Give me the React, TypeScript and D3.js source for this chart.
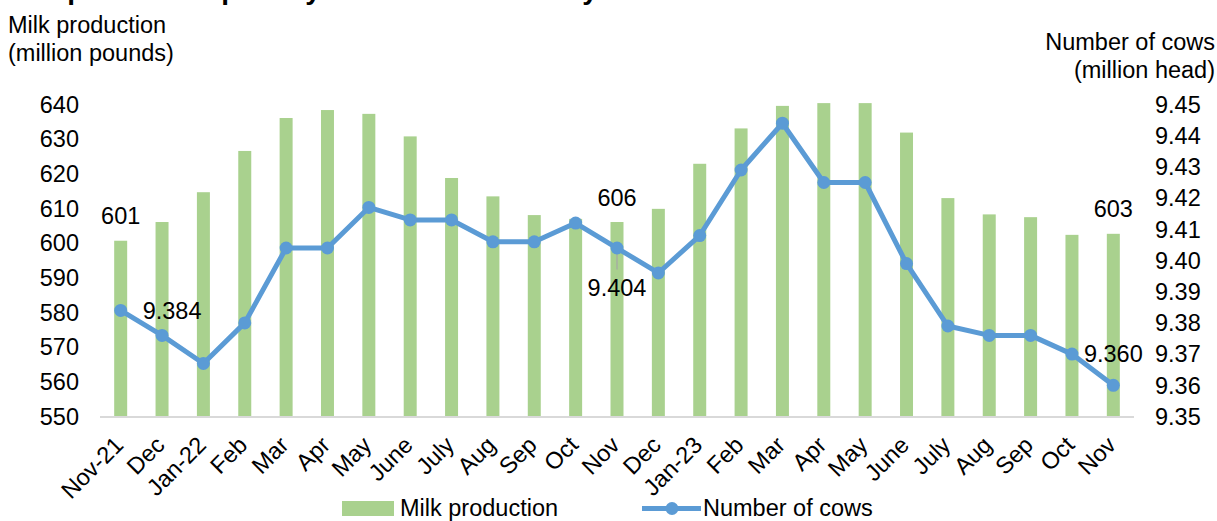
import React from "react";
import * as d3 from "d3";

// Monthly categories, Nov 2021 through Nov 2023
const categories = [
  "Nov-21", "Dec", "Jan-22", "Feb", "Mar", "Apr", "May", "June", "July", "Aug", "Sep", "Oct",
  "Nov", "Dec", "Jan-23", "Feb", "Mar", "Apr", "May", "June", "July", "Aug", "Sep", "Oct", "Nov",
];

// Milk production per day (million pounds)
const milkProduction = [
  600.7, 606.1, 614.7, 626.6, 636.1, 638.4, 637.3, 630.8, 618.8, 613.5, 608.1, 607.0,
  606.1, 609.9, 622.9, 633.1, 639.6, 640.4, 640.4, 631.9, 613.0, 608.3, 607.5, 602.4, 602.7,
];

// Number of cows (million head)
const numberOfCows = [
  9.384, 9.376, 9.367, 9.380, 9.404, 9.404, 9.417, 9.413, 9.413, 9.406, 9.406, 9.412,
  9.404, 9.396, 9.408, 9.429, 9.444, 9.425, 9.425, 9.399, 9.379, 9.376, 9.376, 9.370, 9.360,
];

const leftTicks = [550, 560, 570, 580, 590, 600, 610, 620, 630, 640];
const rightTicks = [9.35, 9.36, 9.37, 9.38, 9.39, 9.40, 9.41, 9.42, 9.43, 9.44, 9.45];

// Points that carry a value label
const milkLabelIdx = [0, 12, 24];
const cowLabelIdx = [0, 12, 24];

const W = 1217;
const H = 521;
const FONT = "'Liberation Sans', Arial, Helvetica, sans-serif";
const FS = 23.5;
const GREEN = "#A9D18E";
const BLUE = "#5B9BD5";

export default function App() {
  const plotLeft = 100;
  const plotRight = 1134;
  const plotTop = 104.5;
  const plotBottom = 416.5;

  const idx = categories.map((_, i) => i);
  const x = d3.scalePoint<number>().domain(idx).range([plotLeft, plotRight]).padding(0.5);
  const barW = x.step() * 0.314;

  const yL = d3.scaleLinear().domain([550, 640]).range([plotBottom, plotTop]);
  const yR = d3.scaleLinear().domain([9.35, 9.45]).range([plotBottom, plotTop]);

  const line = d3
    .line<number>()
    .x((_, i) => x(i) as number)
    .y((d) => yR(d));

  const fmtMilk = d3.format(".0f");
  const fmtCows = d3.format(".3f");
  const fmtR = d3.format(".2f");

  return (
    <svg
      width={W}
      height={H}
      style={{ position: "absolute", left: 0, top: 0, background: "#fff" }}
      fontFamily={FONT}
    >
      {/* Title (runs off the top edge) */}
      <text x={5} y={-1} fontSize={28} fontWeight="bold" fill="#000">
        Milk production per day and number of dairy cows
      </text>

      {/* Axis titles */}
      <text x={8} y={33} fontSize={FS} fill="#000">Milk production</text>
      <text x={8} y={61} fontSize={FS} fill="#000">(million pounds)</text>
      <text x={1215} y={50} fontSize={FS} fill="#000" textAnchor="end">Number of cows</text>
      <text x={1215} y={78} fontSize={FS} fill="#000" textAnchor="end">(million head)</text>

      {/* Left axis ticks */}
      {leftTicks.map((t) => (
        <text key={`l${t}`} x={79} y={yL(t)} dy="0.35em" fontSize={FS} textAnchor="end" fill="#000">
          {t}
        </text>
      ))}

      {/* Right axis ticks */}
      {rightTicks.map((t) => (
        <text key={`r${t}`} x={1155} y={yR(t)} dy="0.35em" fontSize={FS} fill="#000">
          {fmtR(t)}
        </text>
      ))}

      {/* Bars */}
      {milkProduction.map((v, i) => (
        <rect
          key={`b${i}`}
          x={(x(i) as number) - barW / 2}
          y={yL(v)}
          width={barW}
          height={yL(550) - yL(v)}
          fill={GREEN}
        />
      ))}

      {/* Category axis line */}
      <line x1={plotLeft} x2={plotRight} y1={plotBottom + 0.5} y2={plotBottom + 0.5} stroke="#D9D9D9" strokeWidth={2} />

      {/* Leader line for the Nov-22 cow label */}
      <line
        x1={x(12) as number}
        x2={x(12) as number}
        y1={yR(numberOfCows[12])}
        y2={yR(numberOfCows[12]) + 21.5}
        stroke="#A6A6A6"
        strokeWidth={1.2}
      />

      {/* Cows line */}
      <path d={line(numberOfCows) || ""} fill="none" stroke={BLUE} strokeWidth={5} strokeLinejoin="round" />
      {numberOfCows.map((v, i) => (
        <circle key={`m${i}`} cx={x(i) as number} cy={yR(v)} r={6.5} fill={BLUE} />
      ))}

      {/* Milk value labels */}
      {milkLabelIdx.map((i) => (
        <text key={`ml${i}`} x={x(i) as number} y={yL(milkProduction[i]) - 16.5} fontSize={FS} textAnchor="middle" fill="#000">
          {fmtMilk(milkProduction[i])}
        </text>
      ))}

      {/* Cow value labels: right, below, above */}
      {cowLabelIdx.map((i, k) => {
        const cx = x(i) as number;
        const cy = yR(numberOfCows[i]);
        const pos =
          k === 0
            ? { x: cx + 22, y: cy, dy: "0.35em", anchor: "start" }
            : k === 1
            ? { x: cx, y: cy + 48, dy: "0", anchor: "middle" }
            : { x: cx, y: cy - 23, dy: "0", anchor: "middle" };
        return (
          <text key={`cl${i}`} x={pos.x} y={pos.y} dy={pos.dy} fontSize={FS} textAnchor={pos.anchor} fill="#000">
            {fmtCows(numberOfCows[i])}
          </text>
        );
      })}

      {/* Category labels */}
      {categories.map((c, i) => (
        <text
          key={`c${i}`}
          transform={`translate(${(x(i) as number) + 4},${446.5}) rotate(-45)`}
          fontSize={FS}
          textAnchor="end"
          fill="#000"
        >
          {c}
        </text>
      ))}

      {/* Legend */}
      <rect x={342} y={501} width={52} height={15} fill={GREEN} />
      <text x={400} y={515.5} fontSize={FS} fill="#000">Milk production</text>
      <line x1={642} x2={701} y1={508.5} y2={508.5} stroke={BLUE} strokeWidth={5} />
      <circle cx={672} cy={508.5} r={6.5} fill={BLUE} />
      <text x={703} y={515.5} fontSize={FS} fill="#000">Number of cows</text>
    </svg>
  );
}
